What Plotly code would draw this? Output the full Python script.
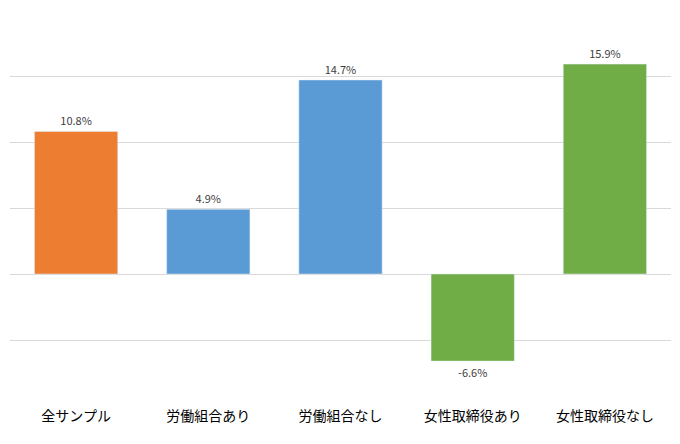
import plotly.graph_objects as go

categories = ["全サンプル", "労働組合あり", "労働組合なし", "女性取締役あり", "女性取締役なし"]
values = [10.8, 4.9, 14.7, -6.6, 15.9]
colors = ["#ED7D31", "#5B9BD5", "#5B9BD5", "#70AD47", "#70AD47"]
labels = [f"{v:.1f}%" for v in values]

fig = go.Figure(go.Bar(
    x=categories, y=values, marker_color=colors, width=0.63,
    text=labels, textposition="outside", cliponaxis=False,
    textfont=dict(size=11, color="#404040", family="Noto Sans CJK JP"),
))
fig.update_layout(
    width=680, height=444, margin=dict(l=2, r=17, t=2, b=46),
    plot_bgcolor="white", paper_bgcolor="white", showlegend=False,
    font=dict(family="Noto Sans CJK JP", color="#333333"),
)
fig.update_yaxes(range=[-10, 20], dtick=5, showticklabels=False, gridcolor="#D9D9D9",
                 zeroline=True, zerolinecolor="#D9D9D9", zerolinewidth=1)
fig.update_xaxes(tickfont=dict(size=14, color="#000000"), showline=False, ticks="")
fig.write_html("out.html")
